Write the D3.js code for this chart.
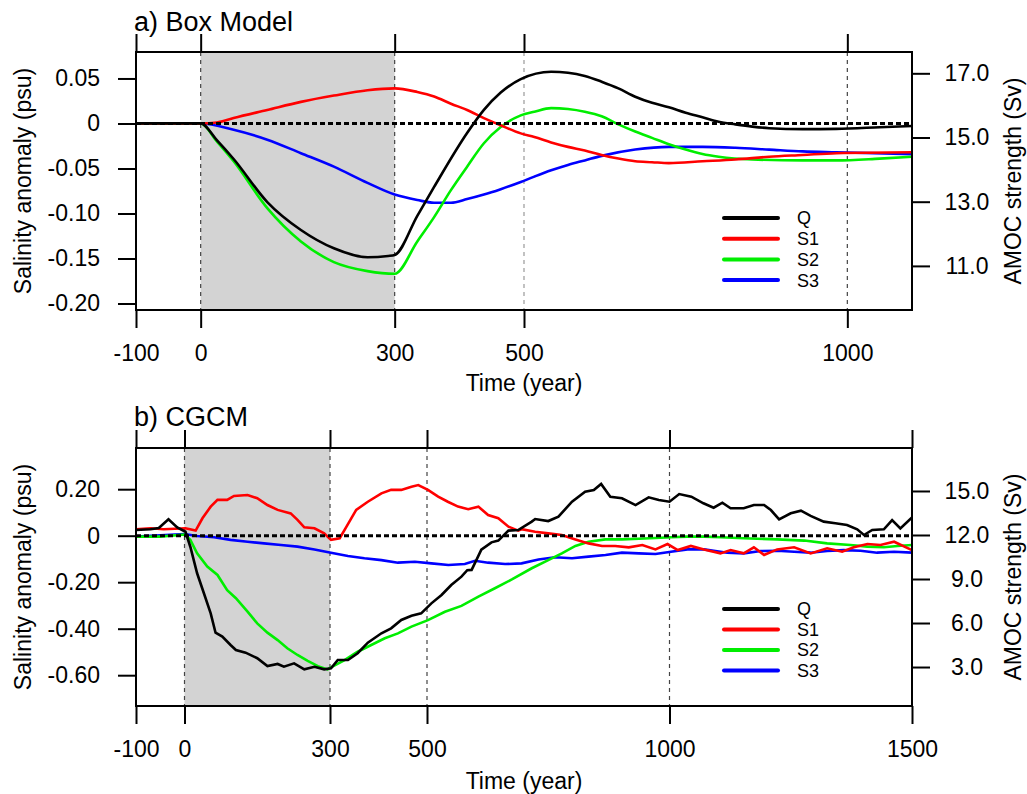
<!DOCTYPE html>
<html><head><meta charset="utf-8">
<script src="https://cdn.jsdelivr.net/npm/d3@7"></script>
<style>
body{margin:0;background:#fff}
svg{display:block}
text{font-family:"Liberation Sans",Arial,Helvetica,sans-serif;fill:#000}
</style>
</head><body>
<svg id="c" width="1027" height="794"></svg>
<script>
// ---------- legend / series ----------
const seriesNames = ["Q", "S1", "S2", "S3"];
const seriesColors = ["#000000", "#ff0000", "#00ee00", "#0000ff"];

// ---------- panel a) Box model ----------
const boxXTicks = [-100, 0, 300, 500, 1000];
const boxXLabels = ["-100", "0", "300", "500", "1000"];
const boxLeftTicks = [0.05, 0, -0.05, -0.10, -0.15, -0.20];
const boxLeftLabels = ["0.05", "0", "-0.05", "-0.10", "-0.15", "-0.20"];
const boxRightTicks = [17, 15, 13, 11];
const boxRightLabels = ["17.0", "15.0", "13.0", "11.0"];
// AMOC strength (Sv)
const boxQ = [[-100,15.44],[0,15.44],[25,14.92],[51,14.33],[103,12.99],[155,12.12],[206,11.55],[258,11.27],[290,11.31],[300,11.34],
  [335,12.56],[361,13.46],[412,15.14],[438,15.86],[464,16.40],[495,16.82],[542,17.05],[568,17.02],[594,16.92],[620,16.74],
  [646,16.53],[672,16.27],[698,16.08],[724,15.94],[750,15.77],[776,15.63],[801,15.49],[827,15.41],[853,15.34],[879,15.29],
  [931,15.26],[983,15.27],[1050,15.32],[1100,15.36]];
// salinity anomalies (psu)
const boxS1 = [[-100,0],[0,0],[25,0.001],[51,0.006],[103,0.015],[155,0.024],[206,0.031],[258,0.037],[300,0.039],[335,0.035],
  [361,0.030],[387,0.022],[412,0.015],[438,0.006],[464,-0.002],[495,-0.011],[516,-0.015],[542,-0.021],[568,-0.026],[594,-0.030],
  [620,-0.035],[646,-0.039],[672,-0.042],[698,-0.043],[724,-0.044],[776,-0.042],[827,-0.040],[879,-0.037],[931,-0.035],[983,-0.033],[1100,-0.032]];
const boxS2 = [[-100,0],[0,0],[25,-0.020],[51,-0.042],[103,-0.094],[155,-0.131],[206,-0.154],[258,-0.164],[300,-0.167],[335,-0.131],
  [361,-0.104],[387,-0.074],[412,-0.048],[438,-0.022],[464,-0.004],[495,0.009],[516,0.013],[542,0.017],[568,0.016],[594,0.013],
  [620,0.008],[646,-0.001],[672,-0.009],[698,-0.016],[724,-0.023],[750,-0.029],[776,-0.034],[801,-0.037],[853,-0.040],[931,-0.041],
  [983,-0.041],[1050,-0.039],[1100,-0.037]];
const boxS3 = [[-100,0],[0,0],[51,-0.007],[103,-0.018],[155,-0.033],[206,-0.048],[258,-0.066],[300,-0.079],[335,-0.085],[361,-0.088],
  [387,-0.088],[412,-0.084],[438,-0.079],[464,-0.073],[495,-0.065],[516,-0.059],[542,-0.052],[568,-0.046],[594,-0.041],[620,-0.036],
  [672,-0.029],[724,-0.026],[776,-0.026],[827,-0.027],[879,-0.029],[931,-0.031],[983,-0.032],[1100,-0.034]];

// ---------- panel b) CGCM ----------
const cgcmXTicks = [-100, 0, 300, 500, 1000, 1500];
const cgcmXLabels = ["-100", "0", "300", "500", "1000", "1500"];
const cgcmLeftTicks = [0.20, 0, -0.20, -0.40, -0.60];
const cgcmLeftLabels = ["0.20", "0", "-0.20", "-0.40", "-0.60"];
const cgcmRightTicks = [15, 12, 9, 6, 3];
const cgcmRightLabels = ["15.0", "12.0", "9.0", "6.0", "3.0"];
const cgcmQ = [[-100,12.34],[-70,12.39],[-53,12.48],[-33,13.07],[-15,12.52],[2,12.22],[12,11.2],[26,9.39],[40,8.03],[54,6.66],
  [64,5.34],[78,5.07],[95,4.50],[106,4.16],[126,3.98],[150,3.60],[171,3.07],[192,3.21],[205,3.02],[226,3.25],[247,2.84],[268,3.02],
  [288,2.84],[302,2.91],[316,3.48],[337,3.48],[357,3.94],[378,4.66],[406,5.30],[426,5.64],[447,6.21],[468,6.50],[488,6.66],
  [509,7.34],[530,7.91],[550,8.59],[571,9.16],[583,9.60],[592,9.62],[602,10.3],[612,11.0],[633,11.5],[647,11.62],[668,12.30],
  [688,12.34],[716,12.91],[723,13.09],[750,12.95],[771,13.25],[799,14.27],[826,14.95],[844,15.07],[859,15.48],[878,14.61],
  [902,14.50],[930,14.04],[957,14.57],[978,14.39],[1000,14.27],[1020,14.79],[1045,14.61],[1070,14.16],[1091,13.86],[1109,14.20],
  [1126,13.82],[1153,13.82],[1174,14.04],[1195,14.04],[1209,13.70],[1226,13.07],[1250,13.48],[1271,13.66],[1291,13.30],[1318,12.91],
  [1342,12.80],[1366,12.68],[1387,12.39],[1401,12.00],[1418,12.34],[1442,12.39],[1459,13.02],[1476,12.45],[1500,13.20]];
const cgcmS1 = [[-100,0.028],[-70,0.032],[-43,0.028],[-20,0.030],[2,0.032],[23,0.022],[37,0.075],[54,0.125],[68,0.154],[88,0.154],
  [102,0.171],[130,0.175],[150,0.161],[171,0.132],[192,0.111],[219,0.096],[233,0.068],[247,0.036],[268,0.032],[288,0.010],
  [302,-0.018],[320,-0.011],[334,0.039],[354,0.111],[378,0.146],[406,0.182],[426,0.197],[447,0.197],[468,0.211],[482,0.218],
  [502,0.197],[523,0.168],[543,0.146],[564,0.125],[585,0.114],[606,0.125],[626,0.089],[647,0.075],[668,0.039],[688,0.022],
  [695,0.028],[723,0.017],[750,0.010],[778,0.003],[806,-0.016],[833,-0.033],[861,-0.044],[888,-0.044],[916,-0.050],[944,-0.040],
  [971,-0.059],[996,-0.036],[1017,-0.062],[1044,-0.044],[1071,-0.059],[1105,-0.076],[1126,-0.062],[1153,-0.076],[1174,-0.050],
  [1195,-0.083],[1222,-0.059],[1257,-0.050],[1291,-0.076],[1325,-0.054],[1356,-0.069],[1380,-0.050],[1408,-0.036],[1435,-0.040],
  [1463,-0.026],[1500,-0.062]];
const cgcmS2 = [[-100,-0.004],[-50,-0.004],[0,0.005],[12,-0.018],[26,-0.076],[47,-0.133],[68,-0.169],[88,-0.234],[106,-0.269],
  [130,-0.327],[150,-0.377],[171,-0.417],[192,-0.449],[212,-0.484],[233,-0.513],[254,-0.538],[275,-0.561],[295,-0.575],[302,-0.566],
  [330,-0.535],[357,-0.499],[385,-0.470],[413,-0.441],[440,-0.420],[468,-0.391],[502,-0.363],[537,-0.327],[571,-0.302],[606,-0.262],
  [640,-0.226],[675,-0.188],[716,-0.140],[750,-0.105],[778,-0.076],[806,-0.044],[833,-0.026],[868,-0.016],[902,-0.016],[937,-0.013],
  [971,-0.010],[1003,-0.007],[1037,-0.004],[1071,-0.004],[1105,-0.007],[1153,-0.011],[1222,-0.016],[1278,-0.021],[1325,-0.033],
  [1373,-0.040],[1408,-0.047],[1442,-0.050],[1470,-0.044],[1500,-0.040]];
const cgcmS3 = [[-100,-0.004],[0,0.007],[26,-0.001],[61,-0.007],[95,-0.018],[130,-0.026],[164,-0.033],[199,-0.040],[233,-0.047],
  [268,-0.059],[302,-0.073],[337,-0.087],[371,-0.097],[406,-0.105],[440,-0.116],[475,-0.112],[509,-0.119],[544,-0.126],[578,-0.122],
  [599,-0.108],[626,-0.116],[661,-0.122],[695,-0.119],[730,-0.102],[764,-0.093],[799,-0.097],[833,-0.090],[868,-0.083],[902,-0.073],
  [937,-0.076],[971,-0.079],[1003,-0.069],[1037,-0.059],[1071,-0.059],[1105,-0.069],[1119,-0.073],[1153,-0.076],[1188,-0.066],
  [1222,-0.065],[1257,-0.069],[1291,-0.073],[1325,-0.066],[1359,-0.062],[1394,-0.065],[1428,-0.073],[1463,-0.069],[1500,-0.073]];

const svg = d3.select("#c");
const FS = 23;

function drawPanel(p) {
  const g = svg.append("g");
  const x = d3.scaleLinear().domain(p.xDomain).range([p.x0, p.x1]);
  const yL = d3.scaleLinear().domain(p.leftDomain).range([p.y1, p.y0]);
  const yR = d3.scaleLinear().domain(p.rightDomain).range([p.y1, p.y0]);

  // forcing period shading
  g.append("rect").attr("x", x(0)).attr("y", p.y0).attr("width", x(300) - x(0)).attr("height", p.y1 - p.y0)
    .attr("fill", "#d3d3d3");
  // vertical dashed reference lines
  [0, 300, 500, 1000].forEach(v => {
    g.append("line").attr("x1", x(v)).attr("x2", x(v)).attr("y1", p.y0).attr("y2", p.y1)
      .attr("stroke", v === 500 && p.light500 ? "#999" : "#444").attr("stroke-width", 1.2)
      .attr("stroke-dasharray", "4,4");
  });

  const curve = p.smooth ? d3.curveMonotoneX : d3.curveLinear;
  const lineL = d3.line().x(d => x(d[0])).y(d => yL(d[1])).curve(curve);
  const lineR = d3.line().x(d => x(d[0])).y(d => yR(d[1])).curve(curve);
  const clipId = "clip" + p.id;
  svg.append("clipPath").attr("id", clipId).append("rect")
    .attr("x", p.x0).attr("y", p.y0).attr("width", p.x1 - p.x0).attr("height", p.y1 - p.y0);
  const cg = g.append("g").attr("clip-path", `url(#${clipId})`);
  // draw order: S3, S2, S1, Q
  cg.append("path").datum(p.s3).attr("d", lineL).attr("fill", "none").attr("stroke", seriesColors[3]).attr("stroke-width", 2.6);
  cg.append("path").datum(p.s2).attr("d", lineL).attr("fill", "none").attr("stroke", seriesColors[2]).attr("stroke-width", 2.6);
  cg.append("path").datum(p.s1).attr("d", lineL).attr("fill", "none").attr("stroke", seriesColors[1]).attr("stroke-width", 2.6);
  cg.append("path").datum(p.q).attr("d", lineR).attr("fill", "none").attr("stroke", seriesColors[0]).attr("stroke-width", 2.6);

  // zero line
  g.append("line").attr("x1", p.x0).attr("x2", p.x1).attr("y1", yL(0)).attr("y2", yL(0))
    .attr("stroke", "#000").attr("stroke-width", 3).attr("stroke-dasharray", "5,3");

  // frame
  g.append("rect").attr("x", p.x0).attr("y", p.y0).attr("width", p.x1 - p.x0).attr("height", p.y1 - p.y0)
    .attr("fill", "none").attr("stroke", "#000").attr("stroke-width", 2);

  const styleAxis = sel => {
    sel.select(".domain").remove();
    sel.selectAll(".tick line").attr("stroke", "#000").attr("stroke-width", 2);
    sel.selectAll("text").attr("font-size", FS).attr("font-family", "Liberation Sans, Arial, sans-serif");
  };
  // bottom axis with labels
  g.append("g").attr("transform", `translate(0,${p.y1})`)
    .call(d3.axisBottom(x).tickValues(p.xTicks).tickFormat((d, i) => p.xLabels[i]).tickSize(18).tickPadding(17))
    .call(styleAxis);
  // top axis ticks only
  g.append("g").attr("transform", `translate(0,${p.y0})`)
    .call(d3.axisTop(x).tickValues(p.xTicks).tickFormat("").tickSize(18))
    .call(styleAxis);
  // left axis
  g.append("g").attr("transform", `translate(${p.x0},0)`)
    .call(d3.axisLeft(yL).tickValues(p.leftTicks).tickFormat((d, i) => p.leftLabels[i]).tickSize(18).tickPadding(18))
    .call(styleAxis);
  // right axis
  const ra = g.append("g").attr("transform", `translate(${p.x1},0)`)
    .call(d3.axisRight(yR).tickValues(p.rightTicks).tickFormat((d, i) => p.rightLabels[i]).tickSize(18))
    .call(styleAxis);
  ra.selectAll("text").attr("text-anchor", "middle").attr("x", 55);

  // titles
  g.append("text").attr("x", 134).attr("y", p.titleY).attr("font-size", 27).text(p.title);
  g.append("text").attr("x", 524).attr("y", p.xTitleY).attr("text-anchor", "middle").attr("font-size", FS).text("Time (year)");
  g.append("text").attr("transform", `translate(23,${(p.y0 + p.y1) / 2 + 0})rotate(-90)`)
    .attr("text-anchor", "middle").attr("dy", "0.35em").attr("font-size", FS).text("Salinity anomaly (psu)");
  g.append("text").attr("transform", `translate(1013,${(p.y0 + p.y1) / 2})rotate(-90)`)
    .attr("text-anchor", "middle").attr("dy", "0.35em").attr("font-size", FS).text("AMOC strength (Sv)");

  // legend
  seriesNames.forEach((n, i) => {
    const ly = p.legendY + i * p.legendStep;
    g.append("line").attr("x1", 724).attr("x2", 778).attr("y1", ly).attr("y2", ly)
      .attr("stroke", seriesColors[i]).attr("stroke-width", 4).attr("stroke-linecap", "round");
    g.append("text").attr("x", 797).attr("y", ly).attr("dy", "0.36em").attr("font-size", 18).text(n);
  });
}

drawPanel({
  id: "a", title: "a) Box Model", titleY: 31, xTitleY: 391,
  x0: 136, x1: 912, y0: 52, y1: 310,
  xDomain: [-100, 1100], leftDomain: [-0.2072, 0.0794], rightDomain: [9.626, 17.664],
  xTicks: boxXTicks, xLabels: boxXLabels, leftTicks: boxLeftTicks, leftLabels: boxLeftLabels,
  rightTicks: boxRightTicks, rightLabels: boxRightLabels,
  q: boxQ, s1: boxS1, s2: boxS2, s3: boxS3, smooth: true, light500: true,
  legendY: 218, legendStep: 20.7
});
drawPanel({
  id: "b", title: "b) CGCM", titleY: 426, xTitleY: 789,
  x0: 136, x1: 912, y0: 448, y1: 706,
  xDomain: [-100, 1500], leftDomain: [-0.7325, 0.3772], rightDomain: [0.343, 17.93],
  xTicks: cgcmXTicks, xLabels: cgcmXLabels, leftTicks: cgcmLeftTicks, leftLabels: cgcmLeftLabels,
  rightTicks: cgcmRightTicks, rightLabels: cgcmRightLabels,
  q: cgcmQ, s1: cgcmS1, s2: cgcmS2, s3: cgcmS3, smooth: false, light500: false,
  legendY: 609, legendStep: 20.5
});
</script>
</body></html>
